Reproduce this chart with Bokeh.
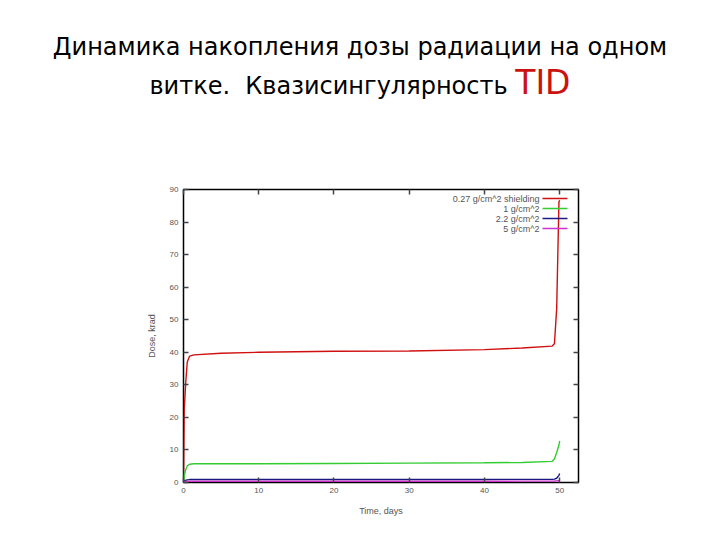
from bokeh.embed import file_html
from bokeh.layouts import column
from bokeh.models import BoxAnnotation, Div, Label, LinearAxis, Range1d
from bokeh.plotting import figure
from bokeh.resources import INLINE

# время, сутки
time_days = [0, 0.1, 0.3, 0.5, 0.8, 1.4, 5, 10, 20, 30, 40, 45, 49, 49.3, 49.6, 49.9, 50]

# накопленная доза, krad
dose_027 = [0, 22.6, 30.8, 37.0, 38.8, 39.2, 39.7, 40.0, 40.3, 40.4, 40.8, 41.3, 41.9, 42.6, 53.4, 86.2, 86.7]
dose_1 = [0, 2.0, 4.0, 5.1, 5.6, 5.75, 5.75, 5.75, 5.85, 5.95, 6.05, 6.16, 6.5, 7.2, 9.2, 11.5, 12.8]
dose_22 = [0, 0.4, 0.7, 0.8, 0.9, 0.92, 0.92, 0.92, 0.93, 0.93, 0.94, 0.95, 0.97, 1.05, 1.3, 2.2, 2.8]
dose_5 = [0, 0.2, 0.3, 0.35, 0.38, 0.4, 0.4, 0.4, 0.4, 0.4, 0.4, 0.41, 0.42, 0.44, 0.5, 0.6, 0.65]

series_labels = ["0.27 g/cm^2 shielding", "1 g/cm^2", "2.2 g/cm^2", "5 g/cm^2"]
series_colors = ["#d01010", "#33cc33", "#1a1a80", "#cc33cc"]
series_values = [dose_027, dose_1, dose_22, dose_5]

x_ticks = [0, 10, 20, 30, 40, 50]
y_ticks = [0, 10, 20, 30, 40, 50, 60, 70, 80, 90]

title_html = (
    "Динамика накопления дозы радиации на одном<br>"
    "витке.&nbsp; Квазисингулярность "
    '<span style="color:#cc1111;font-size:33px;line-height:1">TID</span>'
)

header = Div(
    text=title_html,
    width=720,
    height=108,
    margin=0,
    styles={
        "font-family": "'DejaVu Sans'",
        "font-size": "24px",
        "line-height": "37px",
        "color": "black",
        "text-align": "center",
        "width": "720px",
        "padding-top": "29px",
        "box-sizing": "border-box",
    },
)

p = figure(
    width=720,
    height=432,
    output_backend="svg",
    toolbar_location=None,
    x_range=Range1d(0, 52.5),
    y_range=Range1d(0, 90),
    min_border_left=183,
    min_border_right=142,
    min_border_top=81,
    min_border_bottom=58,
    x_axis_label="Time, days",
    y_axis_label="Dose, krad",
)
p.grid.visible = False
p.outline_line_color = "black"
p.outline_line_width = 1.5

p.add_layout(LinearAxis(), "right")
p.add_layout(LinearAxis(), "above")

for ax in p.xaxis:
    ax.ticker = x_ticks
for ax in p.yaxis:
    ax.ticker = y_ticks

for ax in p.axis:
    ax.axis_line_color = None
    ax.major_tick_in = 5
    ax.major_tick_out = 0
    ax.major_tick_line_color = "#444444"
    ax.major_tick_line_width = 1.5
    ax.minor_tick_line_color = None
    ax.major_label_standoff = 5
    ax.major_label_text_font = "Liberation Sans"
    ax.major_label_text_font_size = "8px"
    ax.major_label_text_color = "#555555"
    ax.axis_label_text_font = "Liberation Sans"
    ax.axis_label_text_font_size = "9px"
    ax.axis_label_text_font_style = "normal"
    ax.axis_label_text_color = "#555555"
    ax.axis_label_standoff = 10

p.xaxis[0].axis_label_standoff = 7
p.right[0].major_label_text_color = None
p.above[0].major_label_text_color = None

for values, color in zip(series_values, series_colors):
    p.line(time_days, values, line_color=color, line_width=1.4)

# легенда в стиле gnuplot: подпись справа, затем образец линии
for i, (label, color) in enumerate(zip(series_labels, series_colors)):
    y_row = 284 - 10 * i
    p.add_layout(
        Label(
            x=356, y=y_row, x_units="screen", y_units="screen", text=label,
            text_align="right", text_baseline="middle",
            text_font="Liberation Sans", text_font_size="9px", text_color="#555555",
        )
    )
    p.add_layout(
        BoxAnnotation(
            left=359, right=384, bottom=y_row - 0.7, top=y_row + 0.7,
            left_units="screen", right_units="screen", bottom_units="screen", top_units="screen",
            fill_color=color, fill_alpha=1.0, line_color=None,
        )
    )

layout = column(header, p, spacing=0)
open("out.html", "w").write(file_html(layout, INLINE))
